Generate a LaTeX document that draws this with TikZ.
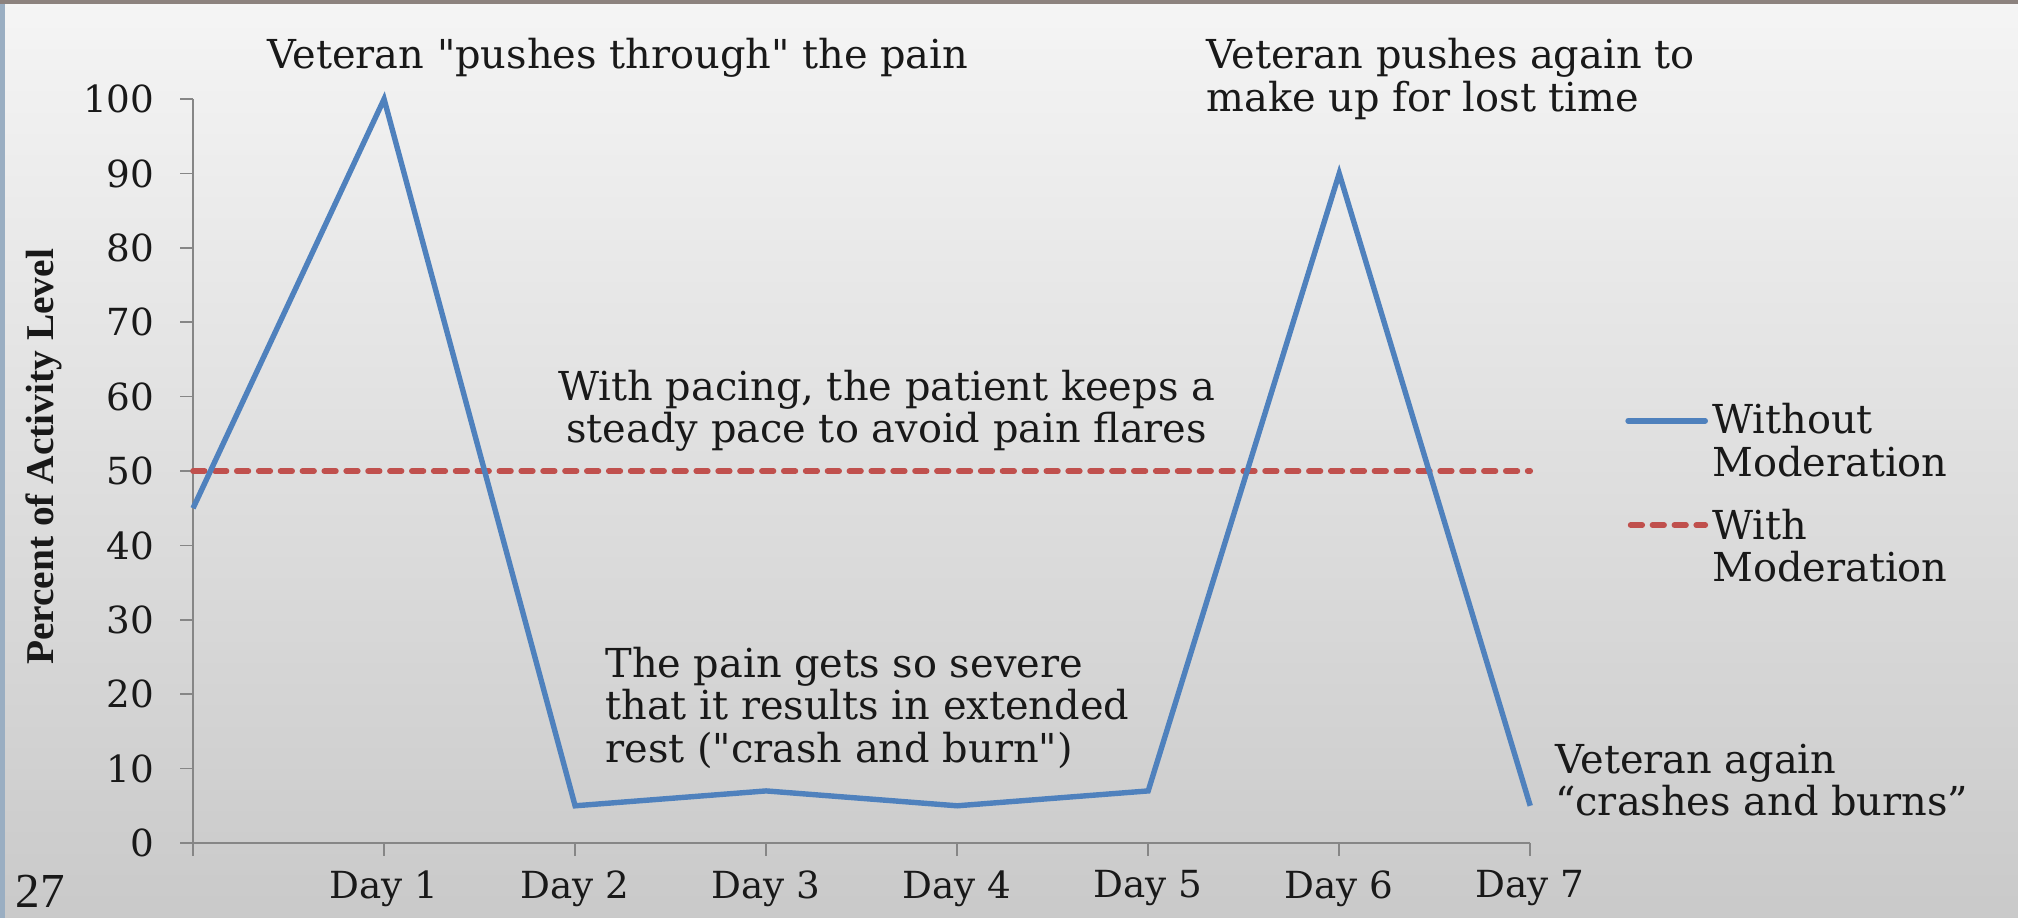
\documentclass[tikz,border=0pt]{standalone}
\usepackage{fontspec}
\setmainfont{DejaVu Serif}
\newfontfamily\titlefont{Liberation Serif}
\begin{document}
\begin{tikzpicture}[x=0.5pt,y=-0.5pt]
\definecolor{serblue}{HTML}{4F81BD}
\definecolor{serred}{HTML}{C0504D}
\definecolor{topbar}{HTML}{8C827E}
\definecolor{sidebar}{HTML}{9AAEC2}
\definecolor{axisgray}{HTML}{868686}
\tikzset{
  anno/.style={font=\fontsize{15.5}{16.5}\selectfont, inner sep=0pt, text=black!90},
  ticklab/.style={font=\fontsize{14.5}{16}\selectfont, inner sep=0pt, text=black!90},
  axisline/.style={draw=axisgray, line width=0.6pt},
  noline/.style={draw=serblue, line width=2.1pt, line join=miter},
  modline/.style={draw=serred, line width=2.2pt, line cap=round, dash pattern=on 4.5pt off 4pt},
}
% background
\useasboundingbox (0,0) rectangle (1568,713);
\shade[top color=black!4, bottom color=black!21] (0,0) rectangle (1568,713);
\fill[topbar] (0,0) rectangle (1568,3);
\fill[sidebar] (0,3) rectangle (4,713);

\begin{scope}[shift={(75pt,-327.5pt)}, x=74.2143pt, y=2.89pt]
  % axes
  \coordinate (o) at (0,0);
  \coordinate (xe) at (7,0);
  \coordinate (ye) at (0,100);
  \draw[axisline] (-0.067,0) -- (xe);
  \draw[axisline] (0,-1.73) -- (ye);
  \foreach \v in {0,10,...,100} {
    \draw[axisline] (-0.067,\v) -- (0,\v);
    \node[ticklab, anchor=east] (yl\v) at (-0.2,\v) {\v};
  }
  \foreach \d in {1,...,7} {
    \draw[axisline] (\d,0) -- (\d,-1.73);
    \node[ticklab] (dl\d) at (\d,-6.1) {Day \d};
  }
  % series
  \coordinate (p0) at (0,45);
  \coordinate (p1) at (1,100);
  \coordinate (p2) at (2,5);
  \coordinate (p3) at (3,7);
  \coordinate (p4) at (4,5);
  \coordinate (p5) at (5,7);
  \coordinate (p6) at (6,90);
  \coordinate (p7) at (7,5);
  \coordinate (m0) at (0,50);
  \coordinate (m7) at (7,50);
  \draw[modline] (m0) -- (m7);
  \draw[noline] (p0) -- (p1) -- (p2) -- (p3) -- (p4) -- (p5) -- (p6) -- (p7);
\end{scope}

% y axis title
\node[font=\titlefont\fontsize{15.3}{16}\selectfont\bfseries, rotate=90, inner sep=0pt, text=black!90] (ytitle) at (34,355) {Percent of Activity Level};

% annotations
\node[anno] (a1) at (480,45) {Veteran \textquotedbl pushes through\textquotedbl{} the pain};
\node[anno, anchor=west, align=left] (a2) at (937,61.5) {Veteran pushes again to\\make up for lost time};
\node[anno, align=center] (a3) at (689,319) {With pacing, the patient keeps a\\steady pace to avoid pain flares};
\node[anno, anchor=west, align=left] (a4) at (470,550) {The pain gets so severe\\that it results in extended\\rest (\textquotedbl crash and burn\textquotedbl)};
\node[anno, anchor=west, align=left] (a5) at (1208,606) {Veteran again\\“crashes and burns”};

% legend
\coordinate (l1a) at (1265,327);
\coordinate (l1b) at (1325,327);
\coordinate (l2a) at (1267,408);
\coordinate (l2b) at (1325,408);
\draw[noline, line cap=round] (l1a) -- (l1b);
\draw[modline] (l2a) -- (l2b);
\node[anno, anchor=west, align=left] (lg1) at (1330,342) {Without\\Moderation};
\node[anno, anchor=west, align=left] (lg2) at (1330,424) {With\\Moderation};

% slide number
\node[font=\titlefont\fontsize{19}{20}\selectfont, inner sep=0pt, text=black!90, anchor=base west] (num) at (12,705) {27};
\end{tikzpicture}
\end{document}
